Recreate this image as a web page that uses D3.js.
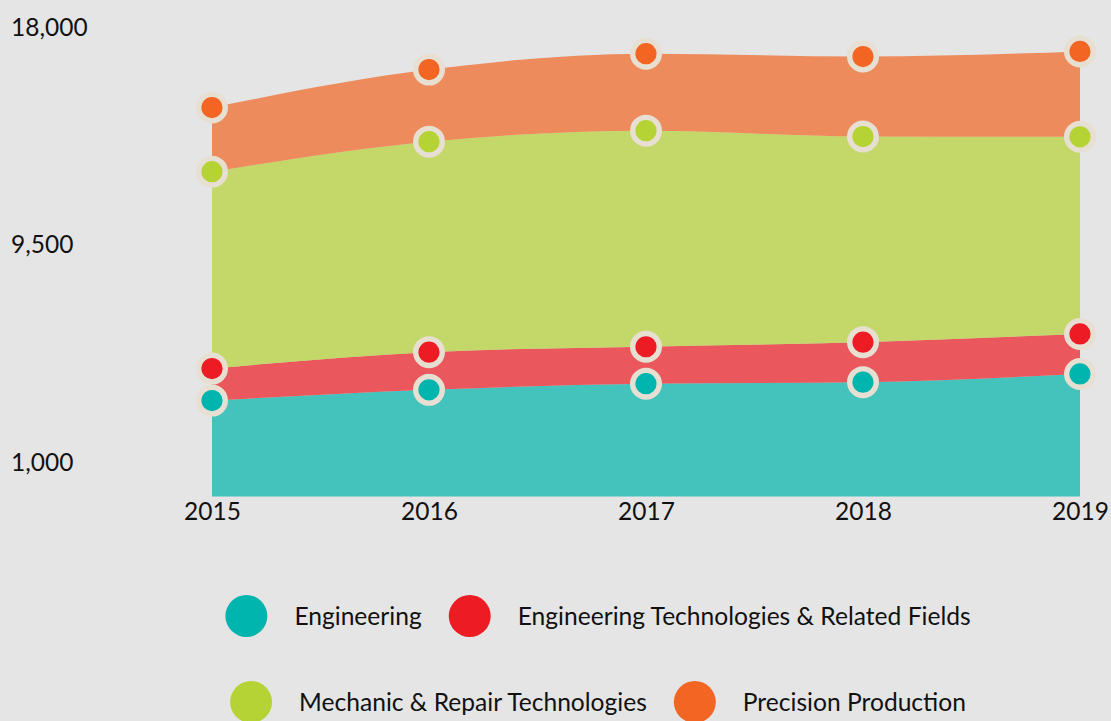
<!DOCTYPE html>
<html lang="en">
<head>
  <meta charset="UTF-8" />
  <title>Stacked area</title>
  <script src="https://cdn.jsdelivr.net/npm/d3@7/dist/d3.min.js"></script>
  <style>
    html, body { margin: 0; padding: 0; background: #e5e5e5; }
    svg { display: block; font-family: Lato, "Open Sans", sans-serif; }
  </style>
</head>
<body>
  <div id="chart"></div>
  <script>
    // data
    const years = [2015, 2016, 2017, 2018, 2019];
    const engineering = [3740, 4160, 4400, 4460, 4780];
    const engTech = [1250, 1470, 1440, 1560, 1560];
    const mechanic = [7680, 8210, 8430, 8020, 7690];
    const precision = [2500, 2810, 3000, 3120, 3330];
    const yTicks = [1000, 9500, 18000];

    const seriesNames = ["Engineering", "Engineering Technologies & Related Fields",
      "Mechanic & Repair Technologies", "Precision Production"];
    const seriesColors = ["#00b5ad", "#ed1c24", "#b5d334", "#f26522"];
    const seriesValues = [engineering, engTech, mechanic, precision];

    const width = 1111, height = 721;
    const bg = "#e5e5e5";

    const svg = d3.select("#chart").append("svg")
      .attr("width", width)
      .attr("height", height);
    svg.append("rect").attr("width", width).attr("height", height).attr("fill", bg);

    // build table for d3.stack
    const table = years.map((yr, i) => {
      const row = { year: yr };
      seriesNames.forEach((n, k) => { row[n] = seriesValues[k][i]; });
      return row;
    });
    const stacked = d3.stack().keys(seriesNames)(table);

    const x = d3.scaleLinear().domain([2015, 2019]).range([212, 1080]);
    const y = d3.scaleLinear().domain([0, 18000]).range([496.5, 35]);

    const area = d3.area()
      .x(d => x(d.data.year))
      .y0(d => y(d[0]))
      .y1(d => y(d[1]))
      .curve(d3.curveMonotoneX);

    svg.append("g")
      .selectAll("path")
      .data(stacked)
      .join("path")
      .attr("d", area)
      .attr("fill", (d, i) => seriesColors[i])
      .attr("fill-opacity", 0.7);

    // points
    const pts = svg.append("g");
    stacked.forEach((s, i) => {
      pts.selectAll(null)
        .data(s)
        .join("circle")
        .attr("cx", d => x(d.data.year))
        .attr("cy", d => y(d[1]))
        .attr("r", 13.3)
        .attr("fill", seriesColors[i])
        .attr("stroke", "#e7dfd2")
        .attr("stroke-width", 5.4);
    });

    // y axis
    const yAxis = svg.append("g")
      .call(d3.axisLeft(y).tickValues(yTicks).tickSize(0).tickFormat(d3.format(",")));
    yAxis.select(".domain").remove();
    yAxis.selectAll("text")
      .attr("x", 11)
      .attr("dy", null)
      .attr("text-anchor", "start")
      .attr("font-family", "Lato, sans-serif")
      .attr("font-size", 24.5)
      .attr("fill", "#111");

    // x axis
    const xAxis = svg.append("g")
      .attr("transform", `translate(0,${y(0)})`)
      .call(d3.axisBottom(x).tickValues(years).tickSize(0).tickFormat(d3.format("d")));
    xAxis.select(".domain").remove();
    xAxis.selectAll("text")
      .attr("y", 23.5)
      .attr("dy", null)
      .attr("font-family", "Lato, sans-serif")
      .attr("font-size", 24.5)
      .attr("fill", "#111");

    // legend, two centred rows
    const legendRows = [[0, 1], [2, 3]];
    const rowY = [616, 702];
    const r = 21, gap = 27, centerX = 598;
    legendRows.forEach((row, ri) => {
      const g = svg.append("g");
      let cursor = 0;
      row.forEach((k, j) => {
        if (j > 0) cursor += gap;
        g.append("circle")
          .attr("cx", cursor + r)
          .attr("cy", rowY[ri])
          .attr("r", r)
          .attr("fill", seriesColors[k]);
        cursor += 2 * r + gap;
        const t = g.append("text")
          .attr("x", cursor)
          .attr("y", rowY[ri] + 8.5)
          .attr("font-size", 24.6)
          .attr("fill", "#111")
          .text(seriesNames[k]);
        cursor += t.node().getComputedTextLength();
      });
      g.attr("transform", `translate(${centerX - cursor / 2},0)`);
    });
  </script>
</body>
</html>
